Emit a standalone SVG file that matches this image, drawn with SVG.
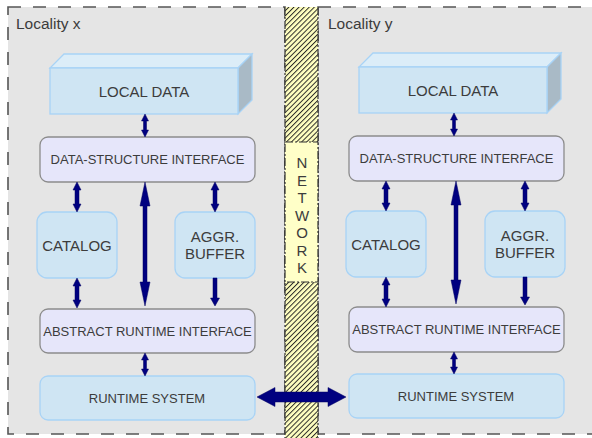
<svg xmlns="http://www.w3.org/2000/svg" width="592" height="438" viewBox="0 0 592 438">
<defs>
<pattern id="hatch" width="3.6" height="3.6" patternUnits="userSpaceOnUse" patternTransform="rotate(45)">
<rect width="3.6" height="3.6" fill="#ffffc0"/>
<line x1="0.5" y1="0" x2="0.5" y2="3.6" stroke="#222" stroke-width="0.95"/>
</pattern>
</defs>
<style>
.loc{fill:#e5e5e5;stroke:#555;stroke-width:1.6;stroke-dasharray:13 12}
.ifc{fill:#e6e6fa;stroke:#8c8c8c;stroke-width:1.3}
.blu{fill:#cfe5f3;stroke:#a8d3f6;stroke-width:1.3}
.top{fill:#dcedf8;stroke:#a8d3f6;stroke-width:1.3}
.side{fill:#a9bac6;stroke:#a8d3f6;stroke-width:1.3}
.t{font-family:"Liberation Sans",Arial,sans-serif;fill:#3c3c3c;text-anchor:middle}
.s13{font-size:13px}
.s15{font-size:15px}
.lbl{font-family:"Liberation Sans",Arial,sans-serif;fill:#3c3c3c;font-size:15.5px}
.dd{stroke:#333;stroke-width:1.2;stroke-dasharray:8 2 2 2;fill:none}
.ddbox{stroke:#333;stroke-width:1.2;stroke-dasharray:8 2 2 2;fill:#ffffc8}
.arr{fill:#000080;stroke:#000060;stroke-width:0.5}
</style>
<rect width="592" height="438" fill="#ffffff"/>

<g id="locality-x">
<rect class="loc" x="8" y="7" width="277" height="427"/>
<text class="lbl" x="16" y="29">Locality x</text>
</g>
<g id="locality-y">
<rect class="loc" x="318" y="7" width="290" height="427"/>
<text class="lbl" x="328" y="29">Locality y</text>
</g>

<g id="network">
<rect x="285" y="7" width="33" height="431" fill="url(#hatch)"/>
<line class="dd" x1="285" y1="7" x2="285" y2="438"/>
<line class="dd" x1="318" y1="7" x2="318" y2="438"/>
<rect class="ddbox" x="285" y="142" width="33" height="140"/>
<g class="t s15">
<text x="302" y="168">N</text>
<text x="302" y="185.5">E</text>
<text x="302" y="203">T</text>
<text x="302" y="220.5">W</text>
<text x="302" y="238">O</text>
<text x="302" y="255.5">R</text>
<text x="302" y="273">K</text>
</g>
</g>

<!-- Locality x nodes -->
<g id="x-local-data">
<polygon class="top" points="50,68 238,68 252,54 64,54"/>
<polygon class="side" points="238,68 252,54 252,100 238,114"/>
<rect class="blu" x="50" y="68" width="188" height="46"/>
<text class="t s15" x="144" y="97">LOCAL DATA</text>
</g>
<g id="x-dsi">
<rect class="ifc" x="40" y="137" width="215" height="45" rx="8"/>
<text class="t s13" x="147.5" y="164">DATA-STRUCTURE INTERFACE</text>
</g>
<g id="x-catalog">
<rect class="blu" x="37" y="212" width="80" height="66" rx="10"/>
<text class="t s15" x="77" y="251">CATALOG</text>
</g>
<g id="x-aggr">
<rect class="blu" x="175" y="212" width="80" height="66" rx="10"/>
<text class="t s15" x="215" y="242">AGGR.</text>
<text class="t s15" x="215" y="259">BUFFER</text>
</g>
<g id="x-ari">
<rect class="ifc" x="40" y="309" width="215" height="44" rx="8"/>
<text class="t s13" x="147.5" y="335.5">ABSTRACT RUNTIME INTERFACE</text>
</g>
<g id="x-rts">
<rect class="blu" x="40" y="376" width="215" height="44" rx="8"/>
<text class="t s13" x="147" y="402.5">RUNTIME SYSTEM</text>
</g>

<!-- Locality y nodes -->
<g id="y-local-data">
<polygon class="top" points="359,67 547,67 561,53 373,53"/>
<polygon class="side" points="547,67 561,53 561,99 547,113"/>
<rect class="blu" x="359" y="67" width="188" height="46"/>
<text class="t s15" x="453" y="96">LOCAL DATA</text>
</g>
<g id="y-dsi">
<rect class="ifc" x="349" y="136" width="215" height="45" rx="8"/>
<text class="t s13" x="456.5" y="163">DATA-STRUCTURE INTERFACE</text>
</g>
<g id="y-catalog">
<rect class="blu" x="346" y="211" width="80" height="66" rx="10"/>
<text class="t s15" x="386" y="250">CATALOG</text>
</g>
<g id="y-aggr">
<rect class="blu" x="485" y="211" width="80" height="66" rx="10"/>
<text class="t s15" x="525" y="241">AGGR.</text>
<text class="t s15" x="525" y="258">BUFFER</text>
</g>
<g id="y-ari">
<rect class="ifc" x="349" y="307" width="215" height="45" rx="8"/>
<text class="t s13" x="456.5" y="334">ABSTRACT RUNTIME INTERFACE</text>
</g>
<g id="y-rts">
<rect class="blu" x="349" y="374" width="215" height="44" rx="8"/>
<text class="t s13" x="456" y="400.5">RUNTIME SYSTEM</text>
</g>

<g id="connectors">
<!-- locality x -->
<polygon class="arr" points="145,114 148.5,121 146.5,121 146.5,130 148.5,130 145,137 141.5,130 143.5,130 143.5,121 141.5,121"/>
<polygon class="arr" points="77,182 81,190 79,190 79,204 81,204 77,212 73,204 75,204 75,190 73,190"/>
<polygon class="arr" points="215,182 219,190 217,190 217,204 219,204 215,212 211,204 213,204 213,190 211,190"/>
<polygon class="arr" points="145,182 150,206 147,206 147,282 150,282 145,306 140,282 143,282 143,206 140,206"/>
<polygon class="arr" points="77,278 81,286 79,286 79,300 81,300 77,308 73,300 75,300 75,286 73,286"/>
<polygon class="arr" points="213,278 217,278 217,298 219.5,298 215,306 210.5,298 213,298"/>
<polygon class="arr" points="145,353 148.5,360 146.5,360 146.5,369 148.5,369 145,376 141.5,369 143.5,369 143.5,360 141.5,360"/>
<!-- locality y -->
<polygon class="arr" points="454,113 457.5,120 455.5,120 455.5,129 457.5,129 454,136 450.5,129 452.5,129 452.5,120 450.5,120"/>
<polygon class="arr" points="386,181 390,189 388,189 388,203 390,203 386,211 382,203 384,203 384,189 382,189"/>
<polygon class="arr" points="525,181 529,189 527,189 527,203 529,203 525,211 521,203 523,203 523,189 521,189"/>
<polygon class="arr" points="456,181 461,205 458,205 458,280 461,280 456,304 451,280 454,280 454,205 451,205"/>
<polygon class="arr" points="386,277 390,285 388,285 388,299 390,299 386,307 382,299 384,299 384,285 382,285"/>
<polygon class="arr" points="523,277 527,277 527,297 529.5,297 525,305 520.5,297 523,297"/>
<polygon class="arr" points="454,352 457.5,359 455.5,359 455.5,367 457.5,367 454,374 450.5,367 452.5,367 452.5,359 450.5,359"/>
<!-- network link -->
<polygon class="arr" points="257,397 275,387.5 275,392 328,392 328,387.5 346,397 328,406.5 328,402 275,402 275,406.5"/>
</g>
</svg>
